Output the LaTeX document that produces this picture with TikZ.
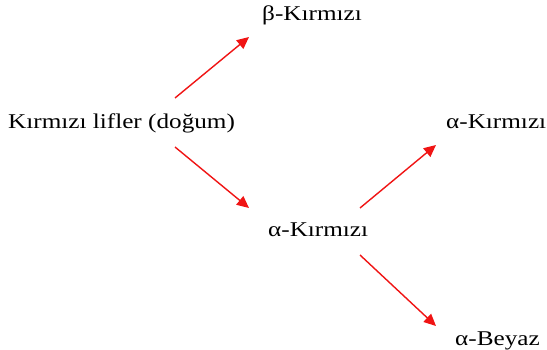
\documentclass[tikz,border=0pt]{standalone}
\usepackage{fontspec}
\setmainfont{Liberation Serif}[FakeStretch=1.2]
\usetikzlibrary{arrows.meta}
\definecolor{arrred}{RGB}{240,20,20}
\tikzset{
  lbl/.style={anchor=base west, inner sep=0pt, font=\fontsize{21}{25}\selectfont},
  conn/.style={draw=arrred, line width=1.4pt, -{Triangle[length=12pt,width=11pt]}}
}
\begin{document}
\begin{tikzpicture}[x=1pt,y=-1pt]
\useasboundingbox[fill=white] (0,0) rectangle (547,350);
\node[lbl] (main) at (8,129) {Kırmızı lifler (doğum)};
\node[lbl] (beta) at (262,21) {β-Kırmızı};
\node[lbl] (ar) at (446,129) {α-Kırmızı};
\node[lbl] (am) at (268,237) {α-Kırmızı};
\node[lbl] (ab) at (455,345) {α-Beyaz};
\coordinate (m1) at (175,98);
\coordinate (b1) at (249,37);
\coordinate (m2) at (175,147);
\coordinate (a2) at (249,208);
\coordinate (am1) at (360,208);
\coordinate (ar1) at (436,145);
\coordinate (am2) at (360,255);
\coordinate (ab1) at (436,326);
\draw[conn] (m1) -- (b1);
\draw[conn] (m2) -- (a2);
\draw[conn] (am1) -- (ar1);
\draw[conn] (am2) -- (ab1);
\end{tikzpicture}
\end{document}
